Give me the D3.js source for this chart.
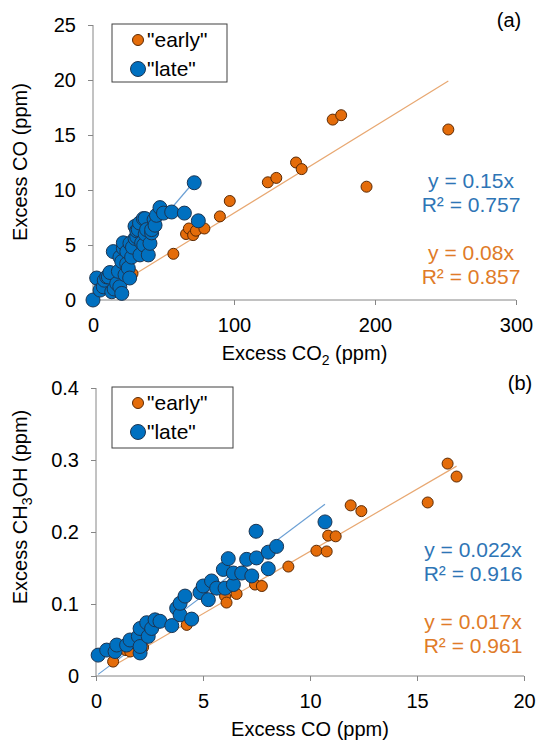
<!DOCTYPE html>
<html>
<head>
<meta charset="utf-8">
<style>
html, body { margin: 0; padding: 0; background: #fff; }
svg { display: block; font-family: Arial, "Liberation Sans", sans-serif; }
.axis line, .axis path { stroke: #868686; stroke-width: 1; }
.axis text { font-size: 20px; fill: #000; }
</style>
</head>
<body>
<script src="https://cdn.jsdelivr.net/npm/d3@7"></script>
<script>
// panel (a): excess CO vs excess CO2
var earlyA = [[17,1.4],[22,2.0],[28,2.4],[57,4.2],[66,6.0],[68,6.5],[71,5.9],[73,6.3],[79,6.5],[90,7.6],[97,9.0],
  [124,10.7],[130,11.1],[144,12.5],[148,11.9],[170,16.4],[176,16.8],[194,10.3],[252,15.5]]
var lateA = [[0,0],[2.6,2.0],[5,0.9],[7.3,1.2],[8,1.8],[9.7,2.1],[10.9,2.1],[12,2.5],[13.3,0.75],[14.4,4.4],[15,1.0],
  [16.8,1.5],[18,2.6],[19,1.2],[19.1,3.9],[20.4,0.6],[20.4,3.5],[21.5,4.7],[21.5,5.2],[22.7,2.3],[23.9,3.3],[24,4.4],
  [25,2.9],[26,2.0],[26.2,5.15],[27.4,3.9],[28,4.8],[29.8,5.6],[29.8,6.7],[31,5.75],[31,6.3],[32.1,6.4],[33,7.0],
  [33.3,4.1],[34.5,5.2],[35.7,7.4],[36,5.0],[36.9,7.4],[37,6.0],[38,6.4],[39.2,4.1],[40.4,5.15],[41.6,6.1],[41.6,6.4],
  [43.3,7.3],[44,6.8],[45,7.7],[47.5,8.4],[50,7.9],[55.8,8.0],[64.8,7.9],[74.7,7.2],[71.8,10.66]]
var slopesA = [0.079, 0.15]
var labelsA = [["y = 0.08x", "R² = 0.857"], ["y = 0.15x", "R² = 0.757"]]
var xTicksA = [0, 100, 200, 300]
var yTicksA = [0, 5, 10, 15, 20, 25]

// panel (b): excess CH3OH vs excess CO
var earlyB = [[0.8,0.02],[1.4,0.036],[1.6,0.034],[2.2,0.04],[4.24,0.071],[6.03,0.111],[6.1,0.102],[6.57,0.114],
  [7.43,0.127],[7.75,0.125],[8.99,0.152],[10.3,0.174],[10.78,0.173],[10.85,0.195],[11.2,0.194],[11.9,0.237],
  [12.4,0.229],[15.5,0.241],[16.43,0.295],[16.85,0.277]]
var lateB = [[0.1,0.029],[0.5,0.036],[0.89,0.034],[0.97,0.043],[1.43,0.043],[1.59,0.05],[1.98,0.055],[2.06,0.032],
  [2.06,0.041],[2.06,0.066],[2.37,0.074],[2.44,0.055],[2.6,0.066],[2.76,0.078],[2.99,0.076],[3.54,0.07],[3.77,0.094],
  [3.93,0.085],[3.93,0.101],[4.16,0.111],[4.47,0.079],[4.86,0.116],[5.01,0.125],[5.25,0.106],[5.4,0.132],[5.64,0.122],
  [5.95,0.148],[6.03,0.122],[6.18,0.163],[6.42,0.127],[6.42,0.143],[6.81,0.143],[7.04,0.162],[7.28,0.139],[7.48,0.201],
  [7.5,0.164],[8.05,0.149],[8.05,0.172],[8.44,0.18],[10.7,0.214]]
var slopesB = [0.0173, 0.0223]
var labelsB = [["y = 0.017x", "R² = 0.961"], ["y = 0.022x", "R² = 0.916"]]
var xTicksB = [0, 5, 10, 15, 20]
var yTicksB = [0, 0.1, 0.2, 0.3, 0.4]

var seriesNames = ['"early"', '"late"']
var fills = ['#e46c0a', '#0070c0']
var strokes = ['#5c2a04', '#1c3552']
var lineColors = ['#e8a872', '#6a9fd4']
var textColors = ['#e07b28', '#2e75b6']

var svg = d3.select('body').append('svg')
    .attr('width', 537)
    .attr('height', 741)

function panel(o) {
    var x = d3.scaleLinear().domain(o.xDomain).range([o.left, o.right])
    var y = d3.scaleLinear().domain(o.yDomain).range([o.bottom, o.top])
    var g = svg.append('g')

    g.append('g').attr('class', 'axis')
        .attr('transform', 'translate(0,' + o.bottom + ')')
        .call(d3.axisBottom(x).tickValues(o.xTicks).tickSize(5).tickSizeOuter(0).tickPadding(13))
        .call(function (a) { a.select('.domain').attr('d', 'M' + o.left + ',0H' + o.right) })
    g.append('g').attr('class', 'axis')
        .attr('transform', 'translate(' + o.left + ',0)')
        .call(d3.axisLeft(y).tickValues(o.yTicks).tickSize(5).tickSizeOuter(0).tickPadding(12).tickFormat(o.yFormat))
        .call(function (a) { a.select('.domain').attr('d', 'M0,' + o.top + 'V' + o.bottom) })

    // fitted lines through the origin, over each series' x range
    o.series.forEach(function (s, i) {
        var ext = d3.extent(s, function (d) { return d[0] })
        g.append('line')
            .attr('x1', x(ext[0])).attr('y1', y(ext[0] * o.slopes[i]))
            .attr('x2', x(ext[1])).attr('y2', y(ext[1] * o.slopes[i]))
            .attr('stroke', lineColors[i]).attr('stroke-width', 1.2)
    })

    o.series.forEach(function (s, i) {
        g.append('g').selectAll('circle').data(s).enter().append('circle')
            .attr('cx', function (d) { return x(d[0]) })
            .attr('cy', function (d) { return y(d[1]) })
            .attr('r', o.radii[i])
            .attr('fill', fills[i])
            .attr('stroke', strokes[i]).attr('stroke-width', 1)
    })

    // equations
    o.labels.forEach(function (l, i) {
        var t = g.append('text').attr('text-anchor', 'middle')
            .attr('font-size', 21).attr('fill', textColors[i])
        t.append('tspan').attr('x', o.labelX).attr('y', o.labelY[i]).text(l[0])
        t.append('tspan').attr('x', o.labelX).attr('y', o.labelY[i] + 24).text(l[1])
    })

    // legend
    var lg = g.append('g')
    lg.append('rect').attr('x', o.legend[0]).attr('y', o.legend[1])
        .attr('width', o.legend[2]).attr('height', o.legend[3])
        .attr('fill', '#fff').attr('stroke', '#404040').attr('stroke-width', 1)
    seriesNames.forEach(function (n, i) {
        var cy = o.legend[1] + 16 + i * 29
        lg.append('circle').attr('cx', o.legend[0] + 26).attr('cy', cy)
            .attr('r', i ? 7.5 : 5.5).attr('fill', fills[i])
            .attr('stroke', strokes[i]).attr('stroke-width', 1)
        lg.append('text').attr('x', o.legend[0] + 35).attr('y', cy + 7)
            .attr('font-size', 21).text(n)
    })

    g.append('text').attr('x', o.tagX).attr('y', o.top + 2)
        .attr('text-anchor', 'middle').attr('font-size', 20).text(o.tag)

    var xt = g.append('text').attr('x', (o.left + o.right) / 2).attr('y', o.xTitleY)
        .attr('text-anchor', 'middle').attr('font-size', 20)
    o.xTitle.forEach(function (p) {
        var ts = xt.append('tspan').text(p[0])
        if (p[1]) ts.attr('font-size', 14).attr('dy', 5)
        else if (p[2]) ts.attr('dy', -5)
    })
    var yt = g.append('text').attr('transform', 'translate(27,' + o.yTitleY + ') rotate(-90)')
        .attr('text-anchor', 'middle').attr('font-size', 20)
    o.yTitle.forEach(function (p) {
        var ts = yt.append('tspan').text(p[0])
        if (p[1]) ts.attr('font-size', 14).attr('dy', 5)
        else if (p[2]) ts.attr('dy', -5)
    })
}

panel({
    xDomain: [0, 300], yDomain: [0, 25], left: 93, right: 516, top: 25, bottom: 300,
    xTicks: xTicksA, yTicks: yTicksA, yFormat: d3.format('d'),
    series: [earlyA, lateA], slopes: slopesA, radii: [5.5, 7],
    labels: labelsA, labelX: 471, labelY: [260, 188],
    legend: [112, 24, 115, 58], tag: '(a)', tagX: 509,
    xTitle: [['Excess CO'], ['2', true], [' (ppm)', false, true]], xTitleY: 360,
    yTitle: [['Excess CO (ppm)']], yTitleY: 162
})

panel({
    xDomain: [0, 20], yDomain: [0, 0.4], left: 96, right: 524, top: 388, bottom: 676,
    xTicks: xTicksB, yTicks: yTicksB, yFormat: function (d) { return d === 0 ? '0' : d3.format('.1f')(d) },
    series: [earlyB, lateB], slopes: slopesB, radii: [5.5, 7],
    labels: labelsB, labelX: 473, labelY: [629, 557],
    legend: [112, 387, 121, 61], tag: '(b)', tagX: 520,
    xTitle: [['Excess CO (ppm)']], xTitleY: 736,
    yTitle: [['Excess CH'], ['3', true], ['OH (ppm)', false, true]], yTitleY: 507
})
</script>
</body>
</html>
